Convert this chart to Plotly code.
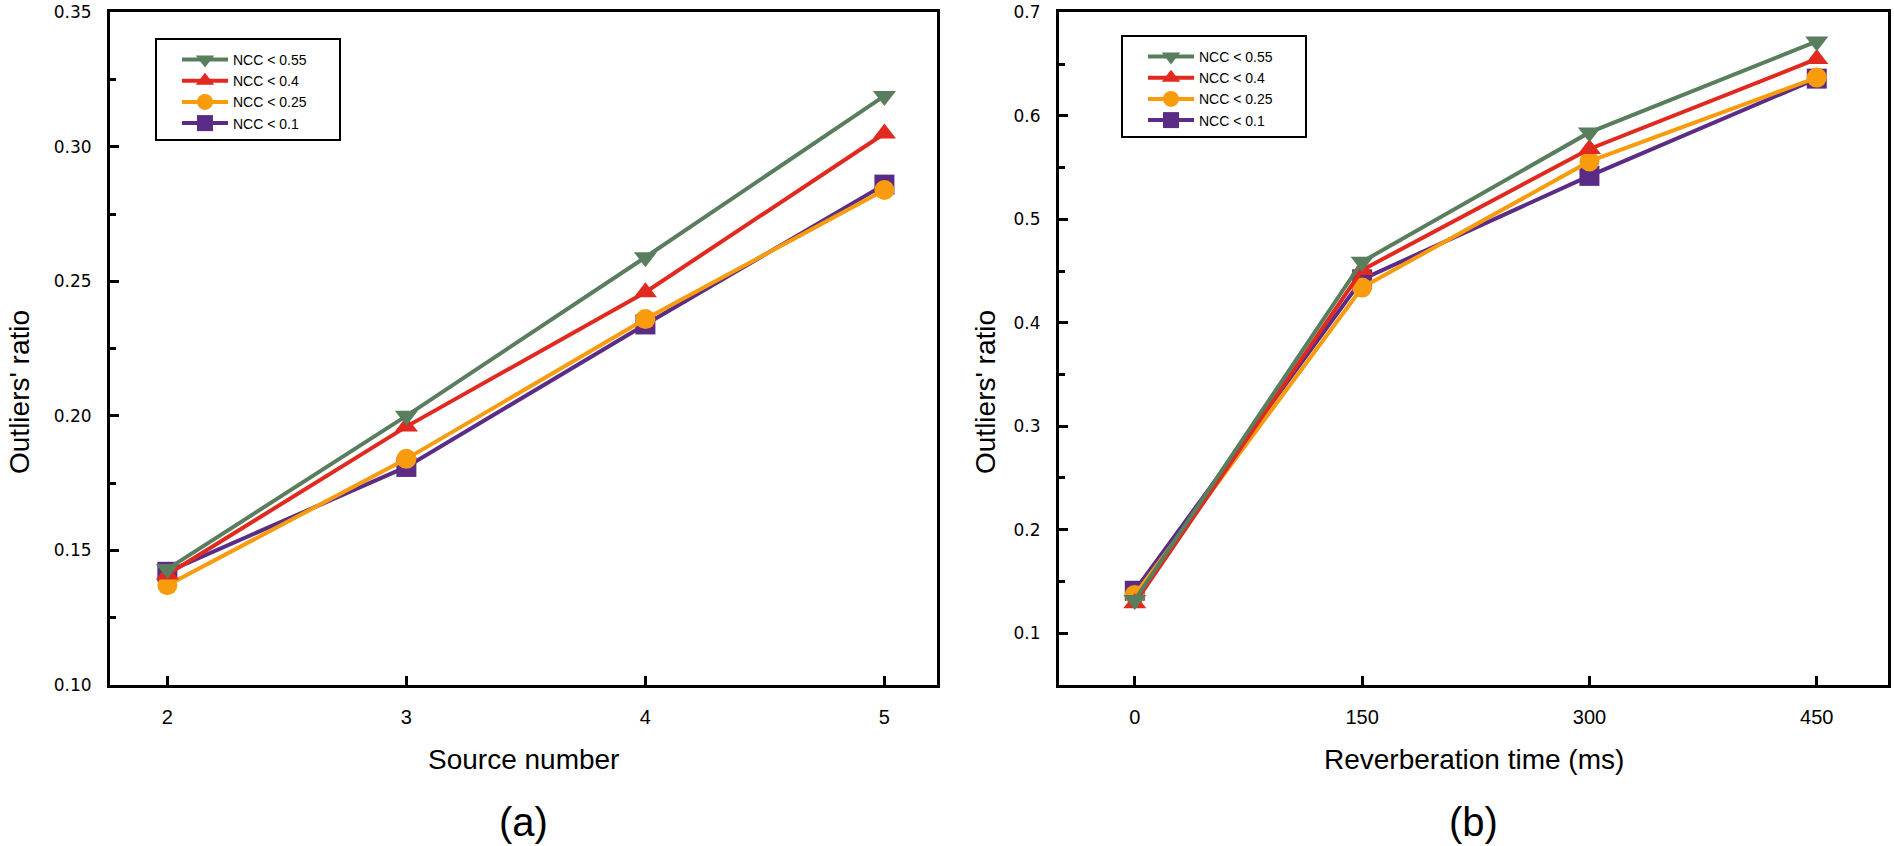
import plotly.graph_objects as go

# ---- data ----
source_number = [2, 3, 4, 5]
reverb_time = [0, 150, 300, 450]
series_names = ["NCC < 0.55", "NCC < 0.4", "NCC < 0.25", "NCC < 0.1"]

a_ncc055 = [0.143, 0.200, 0.259, 0.319]
a_ncc04 = [0.141, 0.196, 0.246, 0.305]
a_ncc025 = [0.137, 0.184, 0.236, 0.284]
a_ncc01 = [0.142, 0.181, 0.234, 0.286]

b_ncc055 = [0.132, 0.459, 0.584, 0.672]
b_ncc04 = [0.129, 0.451, 0.568, 0.655]
b_ncc025 = [0.137, 0.434, 0.556, 0.637]
b_ncc01 = [0.141, 0.442, 0.542, 0.636]

a_yticks = [0.10, 0.15, 0.20, 0.25, 0.30, 0.35]
a_yticktext = ["0.10", "0.15", "0.20", "0.25", "0.30", "0.35"]
b_yticks = [0.1, 0.2, 0.3, 0.4, 0.5, 0.6, 0.7]
b_yticktext = ["0.1", "0.2", "0.3", "0.4", "0.5", "0.6", "0.7"]

colors = ["#587E5E", "#E2291F", "#F89C0E", "#5B2C86"]
symbols = ["triangle-down", "triangle-up", "circle", "square"]

W, H = 1894, 846
ml, mr, mt, mb = 110, 6, 12, 161
pw = W - ml - mr
ph = H - mt - mb

def px_x(x):
    return (x - ml) / pw

def px_y(y):
    return 1 - (y - mt) / ph

dom_a = [0, px_x(937)]
dom_b = [px_x(1059), 1.0]

fig = go.Figure()

a_vals = [a_ncc055, a_ncc04, a_ncc025, a_ncc01]
b_vals = [b_ncc055, b_ncc04, b_ncc025, b_ncc01]

pad = "\u00a0" * 7
order = [3, 2, 1, 0]  # draw purple first, green last
for i in order:
    fig.add_trace(go.Scatter(
        x=source_number, y=a_vals[i], name=series_names[i] + pad, mode="lines+markers",
        line=dict(color=colors[i], width=4),
        marker=dict(symbol=symbols[i], size=20, color=colors[i]),
        xaxis="x", yaxis="y", legend="legend", cliponaxis=False))
for i in order:
    fig.add_trace(go.Scatter(
        x=reverb_time, y=b_vals[i], name=series_names[i] + pad, mode="lines+markers",
        line=dict(color=colors[i], width=4),
        marker=dict(symbol=symbols[i], size=20, color=colors[i]),
        xaxis="x2", yaxis="y2", legend="legend2", cliponaxis=False))

axis_common = dict(
    showline=True, linecolor="black", linewidth=3, mirror=True,
    ticks="inside", tickcolor="black", tickwidth=2.5, ticklen=9,
    showgrid=False, zeroline=False, automargin=False, ticklabeloverflow="allow",
    tickfont=dict(family="Liberation Sans, Arial", size=20, color="black"),
)

yfont = dict(family="DejaVu Sans, Liberation Sans, Arial", size=17, color="black")

legend_common = dict(
    bgcolor="white", bordercolor="black", borderwidth=2,
    font=dict(family="Liberation Sans, Arial", size=14, color="black"),
    traceorder="reversed", tracegroupgap=0, itemwidth=46, indentation=20,
    title=dict(text=" ", font=dict(size=3)),
    xanchor="left", yanchor="top",
)

fig.update_layout(
    width=W, height=H,
    margin=dict(l=ml, r=mr, t=mt, b=mb, autoexpand=False),
    paper_bgcolor="white", plot_bgcolor="white",
    xaxis=dict(domain=dom_a, range=[1.76, 5.22], tickvals=source_number,
               ticklabelstandoff=12, **axis_common),
    yaxis=dict(range=[0.0999, 0.3502], tickvals=a_yticks, ticktext=a_yticktext,
               minor=dict(dtick=0.025, ticks="inside", ticklen=6, tickwidth=2.5, tickcolor="black"),
               ticklabelstandoff=12, anchor="x",
               **{**axis_common, "tickfont": yfont}),
    xaxis2=dict(domain=dom_b, range=[-50, 497], tickvals=reverb_time, anchor="y2",
                ticklabelstandoff=12, **axis_common),
    yaxis2=dict(range=[0.0499, 0.7004], tickvals=b_yticks, ticktext=b_yticktext,
                minor=dict(dtick=0.05, ticks="inside", ticklen=6, tickwidth=2.5, tickcolor="black"),
                ticklabelstandoff=12, anchor="x2",
                **{**axis_common, "tickfont": yfont}),
    legend=dict(x=px_x(155), y=px_y(38), **legend_common),
    legend2=dict(x=px_x(1121), y=px_y(35), **legend_common),
)

title_font = dict(family="Liberation Sans, Arial", size=28, color="black")
panel_font = dict(family="Liberation Sans, Arial", size=40, color="black")

annotations = [
    dict(text="Source number", x=(dom_a[0] + dom_a[1]) / 2, y=px_y(759)),
    dict(text="Reverberation time (ms)", x=(dom_b[0] + dom_b[1]) / 2, y=px_y(759)),
]
for a in annotations:
    fig.add_annotation(xref="paper", yref="paper", showarrow=False, font=title_font,
                       xanchor="center", yanchor="middle", **a)

fig.add_annotation(text="(a)", xref="paper", yref="paper", x=(dom_a[0] + dom_a[1]) / 2,
                   y=px_y(822), showarrow=False, font=panel_font, xanchor="center", yanchor="middle")
fig.add_annotation(text="(b)", xref="paper", yref="paper", x=(dom_b[0] + dom_b[1]) / 2,
                   y=px_y(822), showarrow=False, font=panel_font, xanchor="center", yanchor="middle")

fig.add_annotation(text="Outliers' ratio", xref="paper", yref="paper", x=px_x(19), y=px_y(392),
                   textangle=-90, showarrow=False, font=title_font, xanchor="center", yanchor="middle")
fig.add_annotation(text="Outliers' ratio", xref="paper", yref="paper", x=px_x(985), y=px_y(392),
                   textangle=-90, showarrow=False, font=title_font, xanchor="center", yanchor="middle")

fig.write_html("out.html", config={"displayModeBar": False},
               post_script="document.body.style.margin='0';document.body.style.overflow='hidden';")
